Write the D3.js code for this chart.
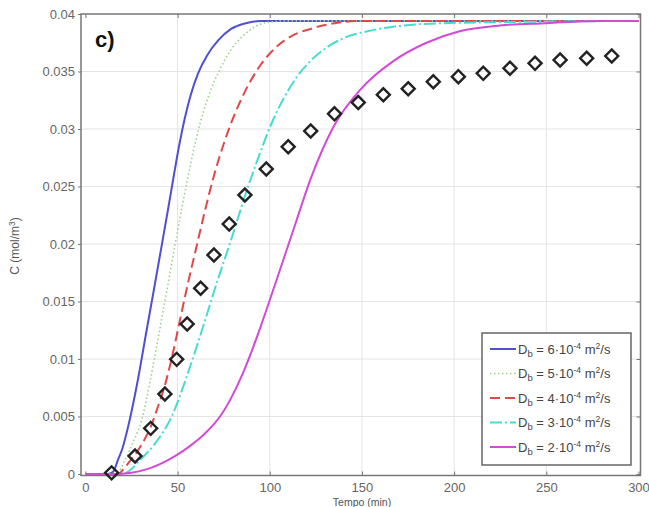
<!DOCTYPE html>
<html>
<head>
<meta charset="utf-8">
<script src="https://cdn.jsdelivr.net/npm/d3@7"></script>
<style>
body { margin: 0; background: #fff; }
text { font-family: "Liberation Sans", Arial, sans-serif; }
</style>
</head>
<body>
<div id="chart"></div>
<script>
// breakthrough curves, time in min, C in mol/m3
var db6 = [[0,0],[12,0],[15,0.0002],[17.6,0.0012],[20,0.0022],[24,0.0047],[28,0.0078],[33.2,0.0125],[36,0.0150],[41.3,0.0198],[44.8,0.0230],[48,0.0260],[51,0.0287],[54,0.0310],[57,0.0329],[61,0.0348],[66,0.0364],[72,0.0377],[79,0.0387],[87,0.0392],[95,0.0394],[300,0.0394]];
var db5 = [[0,0],[15,0],[18,0.0002],[21.4,0.0012],[26,0.0028],[30.5,0.0047],[35,0.0080],[40.8,0.0130],[45,0.0167],[49.5,0.0207],[55.7,0.0259],[60,0.0291],[64,0.0315],[68,0.0334],[73,0.0352],[79,0.0369],[85.5,0.0381],[92,0.0389],[100,0.0393],[110,0.0394],[300,0.0394]];
var db4 = [[0,0],[18,0],[20,0.0003],[24,0.0011],[27,0.0017],[31,0.0027],[35.4,0.0041],[39,0.0057],[43.1,0.0077],[47,0.0102],[51.3,0.0134],[55.5,0.0165],[60.3,0.0198],[65,0.0230],[70,0.0261],[75,0.0287],[80,0.0309],[87,0.0334],[94.7,0.0355],[104,0.0372],[112,0.0381],[122,0.0387],[135,0.0392],[150,0.0394],[300,0.0394]];
var db3 = [[0,0],[20,0],[24,0.0003],[29.6,0.0012],[38,0.0027],[46.8,0.0050],[55,0.0085],[63.8,0.0128],[71,0.0165],[79.3,0.0205],[87,0.0244],[94.7,0.0279],[101,0.0305],[108,0.0328],[115,0.0346],[122,0.0359],[131,0.0371],[140,0.0379],[153,0.0385],[167,0.0389],[194,0.0392],[230,0.0393],[300,0.0394]];
var db2 = [[0,0],[18,0],[25,0.0001],[33,0.0004],[45.8,0.0013],[52,0.0019],[58,0.0026],[64,0.0034],[69,0.0042],[73,0.0050],[79,0.0066],[85.5,0.0088],[90,0.0106],[95,0.0128],[105,0.0175],[114,0.0218],[122,0.0256],[134.6,0.0302],[149,0.0334],[167,0.0359],[185,0.0375],[203,0.0385],[225,0.0390],[250,0.0392],[280,0.0394],[300,0.0394]];

// experimental points
var expTime = [14.2,26.9,35.4,43.1,49.5,55.2,62.5,69.7,78.0,86.5,98.1,110,122.2,135.1,148,161.6,175.1,188.7,202.3,215.8,230.3,243.9,257.5,271.9,285.5];
var expConc = [0.0001,0.00157,0.00397,0.00696,0.00997,0.01304,0.01615,0.01904,0.02174,0.02426,0.02652,0.02846,0.02983,0.03132,0.0323,0.03298,0.0335,0.03411,0.03455,0.03484,0.03528,0.03571,0.036,0.03615,0.03635];

var xTicks = [0, 50, 100, 150, 200, 250, 300];
var yTicks = [0, 0.005, 0.01, 0.015, 0.02, 0.025, 0.03, 0.035, 0.04];
var seriesNames = ["6", "5", "4", "3", "2"];

var margin = {top: 14, left: 81, right: 8.5, bottom: 31.5},
    W = 649, H = 507,
    width = W - margin.left - margin.right,
    height = H - margin.top - margin.bottom;

var svg = d3.select("#chart").append("svg")
    .attr("width", W)
    .attr("height", H);

var g = svg.append("g")
    .attr("transform", "translate(" + margin.left + "," + margin.top + ")");

var x = d3.scaleLinear().domain([-2.4, 301.1]).range([0, width]);
var y = d3.scaleLinear().domain([-0.00013, 0.04]).range([height, 0]);

// grid
g.append("g")
    .selectAll("line")
    .data(xTicks.slice(1, -1))
    .enter().append("line")
    .attr("x1", function(d) { return x(d); })
    .attr("x2", function(d) { return x(d); })
    .attr("y1", 0)
    .attr("y2", height)
    .style("stroke", "#e4e4e4");

g.append("g")
    .selectAll("line")
    .data(yTicks.slice(1, -1))
    .enter().append("line")
    .attr("x1", 0)
    .attr("x2", width)
    .attr("y1", function(d) { return y(d); })
    .attr("y2", function(d) { return y(d); })
    .style("stroke", "#e4e4e4");

// axes
var fmtY = function(d) { return d === 0 ? "0" : String(+d.toFixed(3)); };

g.append("g")
    .call(d3.axisLeft(y).tickValues(yTicks).tickFormat(fmtY).tickSize(3).tickPadding(3));
g.append("g")
    .attr("transform", "translate(0," + height + ")")
    .call(d3.axisBottom(x).tickValues(xTicks).tickSize(-4).tickPadding(7));

g.append("g")
    .attr("transform", "translate(" + width + ",0)")
    .call(d3.axisLeft(y).tickValues(yTicks).tickFormat("").tickSize(4));
g.append("g")
    .call(d3.axisBottom(x).tickValues(xTicks).tickFormat("").tickSize(4));

g.selectAll(".domain").remove();
g.selectAll(".tick line").style("stroke", "#777");
g.selectAll(".tick text")
    .style("font-size", "13px")
    .style("fill", "#666")
    .style("font-family", "'Liberation Sans', Arial, sans-serif");

g.append("rect")
    .attr("width", width)
    .attr("height", height)
    .style("fill", "none")
    .style("stroke", "#777")
    .style("stroke-width", 1.5);

// curves
var line = d3.line()
    .x(function(d) { return x(d[0]); })
    .y(function(d) { return y(d[1]); })
    .curve(d3.curveMonotoneX);

var styles = [
    {data: db6, color: "#4f4fd6", dash: null, w: 2},
    {data: db5, color: "#9fcf8f", dash: "1.5,2.5", w: 1.6},
    {data: db4, color: "#e04848", dash: "10,5", w: 2},
    {data: db3, color: "#46dcd2", dash: "12,3,2,3", w: 2},
    {data: db2, color: "#d24ad6", dash: null, w: 2}
];

g.selectAll("path.curve")
    .data(styles)
    .enter().append("path")
    .attr("class", "curve")
    .attr("d", function(d) { return line(d.data); })
    .style("fill", "none")
    .style("stroke", function(d) { return d.color; })
    .style("stroke-width", function(d) { return d.w; })
    .style("stroke-dasharray", function(d) { return d.dash; });

// diamonds
var diamond = d3.symbol().type(d3.symbolSquare).size(85);
g.selectAll("path.exp")
    .data(expTime)
    .enter().append("path")
    .attr("class", "exp")
    .attr("d", diamond)
    .attr("transform", function(d, i) {
        return "translate(" + x(d) + "," + y(expConc[i]) + ") rotate(45)";
    })
    .style("fill", "none")
    .style("stroke", "#222")
    .style("stroke-width", 2.4);

// legend
var legend = svg.append("g")
    .attr("transform", "translate(482,333)");
legend.append("rect")
    .attr("width", 149)
    .attr("height", 132)
    .style("fill", "#fff")
    .style("stroke", "#666")
    .style("stroke-width", 1.5);

var rows = legend.selectAll("g.row")
    .data(styles)
    .enter().append("g")
    .attr("class", "row")
    .attr("transform", function(d, i) { return "translate(0," + (16 + i * 24.5) + ")"; });

rows.append("line")
    .attr("x1", 8).attr("x2", 34)
    .style("stroke", function(d) { return d.color; })
    .style("stroke-width", function(d) { return d.w; })
    .style("stroke-dasharray", function(d) { return d.dash; });

var lt = rows.append("text")
    .attr("x", 36)
    .attr("y", 4.5)
    .style("font-size", "13px")
    .style("fill", "#444");
lt.append("tspan").text("D");
lt.append("tspan").attr("dy", 3).style("font-size", "9.5px").text("b");
lt.append("tspan").attr("dy", -3).text(function(d, i) { return " = " + seriesNames[i] + "\u00b710"; });
lt.append("tspan").attr("dy", -5).style("font-size", "8.5px").text("-4");
lt.append("tspan").attr("dy", 5).text(" m");
lt.append("tspan").attr("dy", -5).style("font-size", "8.5px").text("2");
lt.append("tspan").attr("dy", 5).text("/s");

// labels
svg.append("text")
    .attr("x", 95)
    .attr("y", 47)
    .style("font-size", "22px")
    .style("font-weight", "bold")
    .style("fill", "#111")
    .text("c)");

svg.append("text")
    .attr("x", 362)
    .attr("y", 506)
    .attr("text-anchor", "middle")
    .style("font-size", "10.5px")
    .style("fill", "#555")
    .text("Tempo (min)");

var yl = svg.append("text")
    .attr("transform", "translate(19,246) rotate(-90)")
    .attr("text-anchor", "middle")
    .style("font-size", "12px")
    .style("fill", "#555");
yl.append("tspan").text("C (mol/m");
yl.append("tspan").attr("dy", -4).style("font-size", "8.5px").text("3");
yl.append("tspan").attr("dy", 4).text(")");
</script>
</body>
</html>
